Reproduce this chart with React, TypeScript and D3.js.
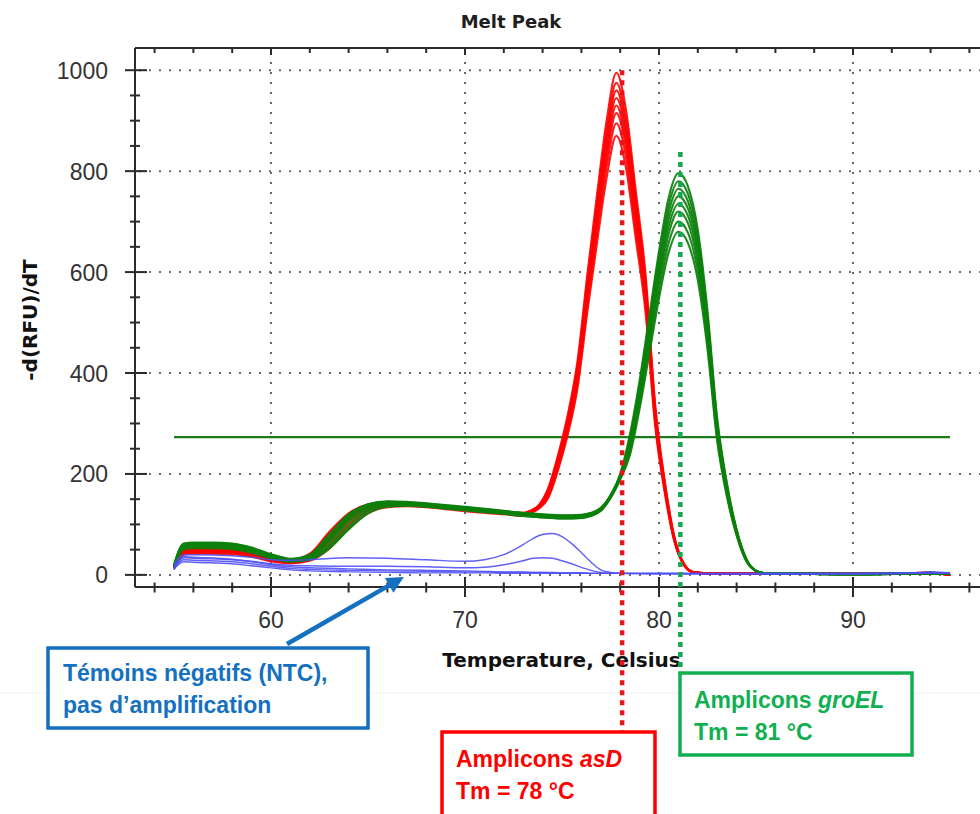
import React from "react";
import * as d3 from "d3";

// ---------- axis ticks ----------
const X_MAJOR = [60, 70, 80, 90];
const X_MINOR = [54, 56, 58, 62, 64, 66, 68, 72, 74, 76, 78, 82, 84, 86, 88, 92, 94, 96];
const Y_MAJOR = [0, 200, 400, 600, 800, 1000];
const Y_MINOR = [50, 100, 150, 250, 300, 350, 450, 500, 550, 650, 700, 750, 850, 900, 950];

// ---------- threshold & Tm ----------
const THRESHOLD = 273;
const THRESHOLD_RANGE = [55, 95];
const TM_ASD = 78.1;
const TM_GROEL = 81.1;

// ---------- asD (red) ----------
const RED_T = [55, 55.5, 56, 57, 58, 59, 60, 61, 62, 63, 64, 65, 66, 67, 68, 70, 72, 73, 73.3,
  73.8, 74.3, 74.8, 75.3, 75.8, 76.3, 76.8, 77.3, 77.8, 78.3, 78.8, 79.3, 79.8, 80.3, 80.8, 81.3, 81.8,
  82.5, 84, 86, 88, 90, 92, 94, 95];
const RED_LOW_1 = [18, 50, 52, 52, 50, 44, 34, 30, 42, 85, 122, 140, 145, 144, 141, 133, 126, 123, 126];
const RED_LOW_2 = [15, 46, 48, 48, 47, 41, 31, 27, 36, 74, 115, 136, 142, 141, 138, 130, 124, 121, 125];
const RED_LOW_3 = [14, 44, 46, 46, 45, 39, 30, 26, 33, 66, 108, 132, 140, 140, 137, 129, 123, 120, 124];
const RED_LOW_4 = [16, 48, 50, 50, 48, 42, 32, 27, 38, 80, 120, 138, 143, 142, 139, 131, 125, 122, 126];
const RED_LOW_5 = [13, 42, 44, 44, 43, 37, 28, 24, 30, 58, 100, 127, 137, 138, 136, 128, 122, 119, 123];
const RED_LOW_6 = [15, 45, 47, 47, 46, 40, 31, 26, 34, 70, 112, 134, 141, 140, 137, 129, 123, 120, 124];
const RED_LOW_7 = [12, 40, 42, 42, 41, 36, 27, 23, 28, 52, 92, 122, 134, 136, 134, 126, 120, 117, 121];
const RED_LOW_8 = [17, 49, 51, 51, 49, 43, 33, 29, 40, 82, 118, 137, 142, 141, 138, 130, 124, 121, 125];
const RED_PEAK_1 = [138, 173, 238, 318, 424, 593, 752, 900, 995, 921, 762, 598, 339, 185, 74, 21, 5];
const RED_PEAK_2 = [137, 171, 233, 311, 415, 581, 736, 881, 975, 902, 747, 586, 332, 181, 73, 21, 5];
const RED_PEAK_3 = [136, 168, 230, 306, 408, 572, 725, 868, 960, 888, 735, 577, 327, 179, 71, 20, 5];
const RED_PEAK_4 = [135, 166, 226, 302, 402, 563, 714, 854, 945, 874, 724, 568, 322, 176, 70, 20, 5];
const RED_PEAK_5 = [134, 163, 223, 297, 396, 554, 702, 841, 930, 860, 712, 559, 316, 173, 69, 20, 5];
const RED_PEAK_6 = [133, 161, 219, 292, 389, 545, 691, 827, 915, 847, 701, 550, 311, 170, 68, 19, 5];
const RED_PEAK_7 = [132, 157, 214, 286, 381, 533, 676, 809, 895, 828, 685, 538, 305, 167, 67, 19, 5];
const RED_PEAK_8 = [131, 153, 208, 278, 370, 519, 657, 787, 870, 806, 667, 523, 296, 162, 65, 19, 5];
const RED_TAIL_1 = [3, 3, 3, 3, 2, 2, 3, 1];
const RED_TAIL_2 = [3, 2, 3, 2, 2, 3, 4, 0];

// ---------- groEL (green) ----------
const GREEN_T = [55, 55.5, 56, 57, 58, 59, 60, 61, 62, 63, 64, 65, 66, 67, 68, 70, 72, 73, 74, 75, 76, 76.5, 77,
  77.5, 78, 78.5, 79, 79.5, 80, 80.5, 81, 81.5, 82, 82.5, 83, 83.5, 84, 84.5, 85, 85.5,
  86, 88, 90, 92, 94, 95];
const GREEN_LOW_1 = [20, 62, 64, 64, 62, 54, 41, 32, 40, 80, 120, 140, 146, 145, 142, 135, 127, 123, 120, 118, 119, 123, 133];
const GREEN_LOW_2 = [18, 58, 60, 60, 58, 50, 38, 30, 36, 70, 112, 135, 142, 141, 138, 131, 124, 120, 117, 115, 116, 120, 130];
const GREEN_LOW_3 = [17, 55, 57, 57, 55, 48, 36, 28, 33, 62, 104, 130, 139, 139, 136, 129, 122, 118, 115, 113, 114, 118, 128];
const GREEN_LOW_4 = [19, 60, 62, 62, 60, 52, 40, 31, 38, 76, 117, 138, 144, 143, 140, 133, 126, 122, 119, 117, 118, 122, 132];
const GREEN_LOW_5 = [16, 53, 55, 55, 53, 46, 35, 27, 31, 56, 96, 126, 137, 138, 135, 128, 121, 117, 114, 112, 113, 117, 127];
const GREEN_LOW_6 = [18, 57, 59, 59, 57, 49, 37, 29, 35, 68, 110, 134, 141, 140, 137, 130, 123, 119, 116, 114, 115, 119, 129];
const GREEN_LOW_7 = [15, 51, 53, 53, 51, 44, 33, 26, 30, 52, 90, 122, 135, 137, 135, 128, 121, 117, 114, 112, 113, 117, 127];
const GREEN_LOW_8 = [19, 61, 63, 63, 61, 53, 40, 31, 39, 78, 118, 139, 145, 144, 141, 134, 126, 122, 119, 117, 118, 122, 132];
const GREEN_PEAK_1 = [158, 200, 278, 385, 513, 641, 748, 796, 769, 684, 523, 310, 182, 90, 32, 8, 3];
const GREEN_PEAK_2 = [157, 198, 272, 377, 503, 628, 733, 780, 754, 670, 513, 304, 178, 89, 31, 8, 3];
const GREEN_PEAK_3 = [156, 197, 267, 370, 493, 616, 719, 765, 739, 657, 503, 298, 175, 87, 31, 8, 3];
const GREEN_PEAK_4 = [155, 196, 262, 363, 483, 604, 705, 750, 725, 645, 493, 292, 171, 86, 30, 8, 3];
const GREEN_PEAK_5 = [155, 194, 257, 355, 474, 592, 691, 735, 711, 632, 484, 286, 168, 84, 30, 8, 3];
const GREEN_PEAK_6 = [154, 193, 251, 348, 464, 580, 676, 720, 696, 618, 473, 280, 164, 82, 29, 8, 3];
const GREEN_PEAK_7 = [153, 191, 244, 338, 451, 564, 658, 700, 677, 602, 461, 273, 160, 80, 28, 8, 3];
const GREEN_PEAK_8 = [152, 189, 237, 329, 438, 548, 639, 680, 657, 584, 447, 265, 155, 78, 27, 8, 3];
const GREEN_TAIL_1 = [2, 2, 2, 2, 3, 2];
const GREEN_TAIL_2 = [3, 2, 1, 2, 4, 2];

// ---------- NTC (blue) ----------
const BLUE_T = [55, 55.5, 56, 58, 59, 60, 61, 62, 64, 66, 68, 70, 71, 72, 73, 73.5, 74, 74.5, 75, 75.5,
  76, 76.5, 77, 77.5, 78, 80, 85, 90, 93, 94, 95];
const BLUE_1 = [20, 40, 40, 38, 35, 30, 29, 30, 34, 33, 30, 27, 30, 40, 60, 72, 80, 82, 76, 62, 44, 25, 10, 5, 3, 3, 3, 3, 4, 6, 4];
const BLUE_2 = [16, 34, 33, 30, 27, 22, 19, 18, 17, 17, 16, 14, 15, 20, 28, 33, 34, 33, 28, 22, 15, 9, 5, 3, 3, 2, 2, 2, 3, 5, 3];
const BLUE_3 = [14, 30, 29, 26, 22, 17, 13, 11, 9, 8, 7, 6, 6, 5, 5, 5, 5, 4, 4, 4, 4, 3, 3, 3, 3, 3, 3, 3, 3, 4, 3];
const BLUE_4 = [12, 26, 25, 22, 18, 14, 10, 8, 6, 5, 4, 4, 4, 3, 3, 3, 3, 3, 3, 3, 3, 3, 3, 3, 3, 2, 2, 2, 3, 4, 3];
const BLUE_5 = [10, 36, 35, 31, 26, 20, 16, 14, 12, 10, 9, 8, 7, 6, 6, 5, 5, 5, 4, 4, 4, 3, 3, 3, 3, 3, 2, 2, 3, 4, 3];

const RED_SERIES = [
  [...RED_LOW_1, ...RED_PEAK_3, ...RED_TAIL_1],
  [...RED_LOW_2, ...RED_PEAK_1, ...RED_TAIL_2],
  [...RED_LOW_3, ...RED_PEAK_5, ...RED_TAIL_1],
  [...RED_LOW_4, ...RED_PEAK_2, ...RED_TAIL_2],
  [...RED_LOW_5, ...RED_PEAK_7, ...RED_TAIL_1],
  [...RED_LOW_6, ...RED_PEAK_4, ...RED_TAIL_2],
  [...RED_LOW_7, ...RED_PEAK_8, ...RED_TAIL_1],
  [...RED_LOW_8, ...RED_PEAK_6, ...RED_TAIL_2],
];
const GREEN_SERIES = [
  [...GREEN_LOW_1, ...GREEN_PEAK_3, ...GREEN_TAIL_1],
  [...GREEN_LOW_2, ...GREEN_PEAK_1, ...GREEN_TAIL_2],
  [...GREEN_LOW_3, ...GREEN_PEAK_6, ...GREEN_TAIL_1],
  [...GREEN_LOW_4, ...GREEN_PEAK_2, ...GREEN_TAIL_2],
  [...GREEN_LOW_5, ...GREEN_PEAK_8, ...GREEN_TAIL_1],
  [...GREEN_LOW_6, ...GREEN_PEAK_4, ...GREEN_TAIL_2],
  [...GREEN_LOW_7, ...GREEN_PEAK_7, ...GREEN_TAIL_1],
  [...GREEN_LOW_8, ...GREEN_PEAK_5, ...GREEN_TAIL_2],
];
const BLUE_SERIES = [BLUE_3, BLUE_4, BLUE_5, BLUE_2, BLUE_1];

// ---------- layout ----------
const W = 980;
const H = 814;
const LEFT = 135;
const RIGHT = 980;
const TOP = 48;
const BOTTOM = 587;

const xS = d3.scaleLinear().domain([53, 97]).range([135.2, 988.8]);
const yS = d3.scaleLinear().domain([-24, 1044]).range([BOTTOM, TOP]);

const lineGen = d3
  .line<[number, number]>()
  .x((d) => xS(d[0]))
  .y((d) => yS(d[1]))
  .curve(d3.curveMonotoneX);

const toPath = (ts: number[], vs: number[]) =>
  lineGen(ts.map((t, i) => [t, vs[i]] as [number, number])) || "";

const AXIS = "#2b2b2b";
const GRID = "#6a6a6a";
const RED = "#ff0000";
const GREEN = "#0b800b";
const BLUE = "#4f4ff5";
const BOX_BLUE = "#1470c0";
const BOX_RED = "#ff0000";
const BOX_GREEN = "#10b050";
const ANN_FONT = "'Liberation Sans', Arial, sans-serif";
const LAB_FONT = "'DejaVu Sans', Verdana, sans-serif";

function Arrow() {
  const tip: [number, number] = [xS(66.85), yS(-4)];
  const tail: [number, number] = [287, 644];
  const dx = tip[0] - tail[0];
  const dy = tip[1] - tail[1];
  const len = Math.hypot(dx, dy);
  const ux = dx / len;
  const uy = dy / len;
  const hl = 17;
  const hw = 8.5;
  const bx = tip[0] - ux * hl;
  const by = tip[1] - uy * hl;
  const pts = [
    [tip[0], tip[1]],
    [bx - uy * hw, by + ux * hw],
    [bx + uy * hw, by - ux * hw],
  ]
    .map((p) => p.join(","))
    .join(" ");
  return (
    <g>
      <line x1={tail[0]} y1={tail[1]} x2={bx + ux * 2} y2={by + uy * 2} stroke={BOX_BLUE} strokeWidth={4.5} />
      <polygon points={pts} fill={BOX_BLUE} />
    </g>
  );
}

export default function App() {
  return (
    <svg
      width={W}
      height={H}
      viewBox={`0 0 ${W} ${H}`}
      style={{ position: "absolute", left: 0, top: 0, background: "#ffffff", display: "block" }}
    >
      <defs>
        <clipPath id="plotClip">
          <rect x={LEFT} y={TOP} width={RIGHT - LEFT} height={BOTTOM - TOP} />
        </clipPath>
      </defs>
      <rect x={0} y={0} width={W} height={H} fill="#ffffff" />
      <line x1={0} x2={W} y1={693} y2={693} stroke="#f4f4f4" strokeWidth={1.5} />

      {/* title */}
      <text x={511} y={28} textAnchor="middle" fontFamily={LAB_FONT} fontWeight="bold" fontSize={18} fill="#1e1e1e">
        Melt Peak
      </text>

      {/* grid */}
      {Y_MAJOR.map((v) => (
        <line key={"gy" + v} x1={LEFT + 4} x2={RIGHT} y1={yS(v)} y2={yS(v)} stroke={GRID} strokeWidth={2} strokeDasharray="2,8" />
      ))}
      {X_MAJOR.map((v) => (
        <line key={"gx" + v} x1={xS(v)} x2={xS(v)} y1={TOP + 4} y2={BOTTOM} stroke={GRID} strokeWidth={2} strokeDasharray="2,8" />
      ))}

      {/* threshold */}
      <line
        x1={xS(THRESHOLD_RANGE[0])}
        x2={xS(THRESHOLD_RANGE[1])}
        y1={yS(THRESHOLD)}
        y2={yS(THRESHOLD)}
        stroke="#1c7a1c"
        strokeWidth={2.2}
      />

      {/* curves */}
      <g clipPath="url(#plotClip)" fill="none" strokeLinejoin="round">
        {RED_SERIES.map((s, i) => (
          <path key={"r" + i} d={toPath(RED_T, s)} stroke={RED} strokeWidth={2.1} strokeOpacity={0.9} />
        ))}
        {GREEN_SERIES.map((s, i) => (
          <path key={"g" + i} d={toPath(GREEN_T, s)} stroke={GREEN} strokeWidth={2.1} strokeOpacity={0.92} />
        ))}
        {BLUE_SERIES.map((s, i) => (
          <path key={"b" + i} d={toPath(BLUE_T, s)} stroke={BLUE} strokeWidth={1.4} strokeOpacity={0.9} />
        ))}
      </g>

      {/* axes */}
      <g stroke={AXIS} strokeWidth={2}>
        <line x1={LEFT} x2={RIGHT} y1={TOP} y2={TOP} />
        <line x1={LEFT} x2={RIGHT} y1={BOTTOM} y2={BOTTOM} />
        <line x1={LEFT} x2={LEFT} y1={TOP} y2={BOTTOM} />
        {X_MINOR.map((v) => (
          <g key={"xm" + v}>
            <line x1={xS(v)} x2={xS(v)} y1={BOTTOM - 4.5} y2={BOTTOM + 5.5} />
            <line x1={xS(v)} x2={xS(v)} y1={TOP} y2={TOP + 5} />
          </g>
        ))}
        {X_MAJOR.map((v) => (
          <g key={"xM" + v}>
            <line x1={xS(v)} x2={xS(v)} y1={BOTTOM - 10} y2={BOTTOM + 10} />
            <line x1={xS(v)} x2={xS(v)} y1={TOP} y2={TOP + 7} />
          </g>
        ))}
        {Y_MINOR.map((v) => (
          <line key={"ym" + v} x1={LEFT - 5} x2={LEFT + 5} y1={yS(v)} y2={yS(v)} />
        ))}
        {Y_MAJOR.map((v) => (
          <line key={"yM" + v} x1={LEFT - 10} x2={LEFT + 12} y1={yS(v)} y2={yS(v)} />
        ))}
      </g>

      {/* tick labels */}
      {X_MAJOR.map((v) => (
        <text key={"xl" + v} x={xS(v)} y={628} textAnchor="middle" fontFamily={ANN_FONT} fontSize={23} fill="#333">
          {v}
        </text>
      ))}
      {Y_MAJOR.map((v) => (
        <text key={"yl" + v} x={108} y={yS(v) + 8.5} textAnchor="end" fontFamily={ANN_FONT} fontSize={23} fill="#333">
          {v}
        </text>
      ))}

      {/* axis titles */}
      <text x={561.5} y={667} textAnchor="middle" fontFamily={LAB_FONT} fontWeight="bold" fontSize={20} fill="#111">
        Temperature, Celsius
      </text>
      <text
        transform="translate(37,320) rotate(-90)"
        textAnchor="middle"
        fontFamily={LAB_FONT}
        fontWeight="bold"
        fontSize={20}
        fill="#111"
      >
        -d(RFU)/dT
      </text>

      {/* Tm lines */}
      <line x1={xS(TM_ASD)} x2={xS(TM_ASD)} y1={yS(1000)} y2={732} stroke="#e8141a" strokeWidth={4.5} strokeDasharray="5,5" />
      <line x1={xS(TM_GROEL)} x2={xS(TM_GROEL)} y1={yS(838)} y2={673} stroke="#14a850" strokeWidth={4.5} strokeDasharray="5,5" />

      {/* NTC annotation */}
      <Arrow />
      <rect x={48} y={648} width={320} height={80} fill="#ffffff" stroke={BOX_BLUE} strokeWidth={3.5} />
      <text x={63} y={681} fontFamily={ANN_FONT} fontWeight="bold" fontSize={23} fill={BOX_BLUE}>
        Témoins négatifs (NTC),
      </text>
      <text x={63} y={713} fontFamily={ANN_FONT} fontWeight="bold" fontSize={23} fill={BOX_BLUE}>
        pas d’amplification
      </text>

      {/* asD annotation */}
      <rect x={442} y={732} width={213} height={100} fill="#ffffff" stroke={BOX_RED} strokeWidth={3.5} />
      <text x={456} y={767} fontFamily={ANN_FONT} fontWeight="bold" fontSize={23} fill={BOX_RED}>
        Amplicons <tspan fontStyle="italic">asD</tspan>
      </text>
      <text x={456} y={799} fontFamily={ANN_FONT} fontWeight="bold" fontSize={23} fill={BOX_RED}>
        Tm = 78 °C
      </text>

      {/* groEL annotation */}
      <rect x={680} y={673} width={232} height={82} fill="#ffffff" stroke={BOX_GREEN} strokeWidth={3.5} />
      <text x={694} y={708} fontFamily={ANN_FONT} fontWeight="bold" fontSize={23} fill={BOX_GREEN}>
        Amplicons <tspan fontStyle="italic">groEL</tspan>
      </text>
      <text x={694} y={740} fontFamily={ANN_FONT} fontWeight="bold" fontSize={23} fill={BOX_GREEN}>
        Tm = 81 °C
      </text>
    </svg>
  );
}
